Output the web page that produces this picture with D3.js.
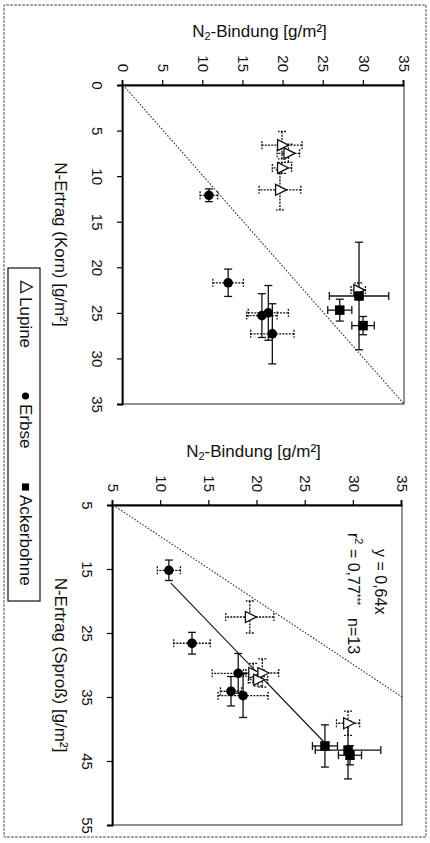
<!DOCTYPE html>
<html><head><meta charset="utf-8">
<script src="https://cdn.jsdelivr.net/npm/d3@7"></script>
<style>
body{margin:0;background:#fff}
svg{display:block}
text{font-family:"Liberation Sans",Arial,sans-serif;fill:#111}
</style>
</head><body>
<svg id="c" width="430" height="843"></svg>
<script>
// ---------- DATA ----------
// rows: [N-Ertrag, N2-Bindung, error N-Ertrag, error N2-Bindung]
const kornTicks = [0, 5, 10, 15, 20, 25, 30, 35];
const bindTicksTop = [0, 5, 10, 15, 20, 25, 30, 35];
const sprossTicks = [5, 15, 25, 35, 45, 55];
const bindTicksBottom = [5, 10, 15, 20, 25, 30, 35];

const kornLupine = [[6.6, 19.8, 1.5, 2.5], [7.5, 20.6, 1.0, 1.4], [9.1, 19.8, 0.6, 1.2], [11.5, 19.55, 2.2, 2.6], [22.5, 29.3, 0.8, 0.9]];
const kornErbse = [[12.1, 10.7, 0.7, 1.1], [21.7, 13.1, 1.5, 1.9], [25.3, 17.3, 2.4, 1.9], [25.0, 18.1, 3.0, 2.5], [27.3, 18.6, 3.3, 2.7]];
const kornAckerbohne = [[23.15, 29.4, 5.9, 3.7], [24.7, 27.0, 1.2, 1.5], [26.4, 29.9, 1.0, 1.4]];

const sprossLupine = [[22.5, 19.2, 2.5, 2.5], [31.25, 19.55, 1.5, 1.0], [31.25, 20.5, 2.2, 1.7], [32.3, 20.05, 1.0, 1.0], [39.1, 29.4, 1.9, 1.2]];
const sprossErbse = [[15.2, 10.8, 1.6, 1.2], [26.6, 13.2, 1.7, 1.9], [31.3, 18.0, 3.1, 2.7], [34.1, 17.25, 2.3, 1.1], [34.8, 18.5, 3.4, 2.6]];
const sprossAckerbohne = [[42.65, 27.0, 3.3, 1.3], [43.3, 29.4, 4.5, 3.4], [44.1, 29.6, 1.5, 1.2]];

const regSlope = 0.64;
const regXRange = [17.2, 42.5];
const legendNames = ["Lupine", "Erbse", "Ackerbohne"];

// ---------- DRAW ----------
const svg = d3.select("#c");
// The figure is drawn upright and then turned 90° clockwise, as in the reference.
const g = svg.append("g").attr("transform", "translate(430,0) rotate(90)");

// outer frame
g.append("rect").attr("x", 5).attr("y", 4).attr("width", 832).attr("height", 422)
  .attr("fill", "none").attr("stroke", "#555").attr("stroke-width", 1).attr("stroke-dasharray", "3,1");

function panel(opt) {
  const x = d3.scaleLinear().domain(opt.xDomain).range(opt.xRange);
  const y = d3.scaleLinear().domain(opt.yDomain).range(opt.yRange);
  const p = g.append("g");
  const [x0, x1] = opt.xRange, [y0, y1] = opt.yRange; // y0 bottom, y1 top

  p.append("rect").attr("x", x0).attr("y", y1).attr("width", x1 - x0).attr("height", y0 - y1)
    .attr("fill", "none").attr("stroke", "#222").attr("stroke-width", 1);

  const ax = p.append("g").attr("transform", `translate(0,${y0})`)
    .call(d3.axisBottom(x).tickValues(opt.xTicks).tickSize(6).tickPadding(14).tickFormat(d3.format("d")));
  const ay = p.append("g").attr("transform", `translate(${x0},0)`)
    .call(d3.axisLeft(y).tickValues(opt.yTicks).tickSize(5).tickPadding(8).tickFormat(d3.format("d")));
  [ax, ay].forEach(a => {
    a.select(".domain").attr("stroke", "#000").attr("stroke-width", 1.8);
    a.selectAll(".tick line").attr("stroke", "#000").attr("stroke-width", 1.2);
    a.selectAll(".tick text").attr("font-size", 15).attr("font-family", '"Liberation Sans",Arial,sans-serif').attr("fill", "#111");
  });

  // 1:1 line
  const dLo = Math.max(opt.xDomain[0], opt.yDomain[0]);
  const dHi = Math.min(opt.xDomain[1], opt.yDomain[1]);
  p.append("line").attr("x1", x(dLo)).attr("y1", y(dLo)).attr("x2", x(dHi)).attr("y2", y(dHi))
    .attr("stroke", "#333").attr("stroke-width", 1.1).attr("stroke-dasharray", "1.6,1.6");

  if (opt.reg) {
    p.append("line").attr("x1", x(regXRange[0])).attr("y1", y(regSlope * regXRange[0]))
      .attr("x2", x(regXRange[1])).attr("y2", y(regSlope * regXRange[1]))
      .attr("stroke", "#111").attr("stroke-width", 1.1);
  }

  const series = [
    {data: opt.lupine, shape: "tri", dashX: "2,1.2", dashY: "2,1.2"},
    {data: opt.erbse, shape: "circle", dashX: null, dashY: "2,1.2"},
    {data: opt.acker, shape: "square", dashX: null, dashY: null}
  ];
  const cap = 4;
  series.forEach(s => {
    const eb = p.append("g");
    s.data.forEach(d => {
      const cx = x(d[0]), cy = y(d[1]);
      const xl = x(d[0] - d[2]), xr = x(d[0] + d[2]);
      const yt = y(d[1] + d[3]), yb = y(d[1] - d[3]);
      const hx = eb.append("g").attr("stroke", "#111").attr("stroke-width", 1.3);
      if (s.dashX) hx.attr("stroke-dasharray", s.dashX);
      hx.append("line").attr("x1", xl).attr("x2", xr).attr("y1", cy).attr("y2", cy);
      hx.append("line").attr("x1", xl).attr("x2", xl).attr("y1", cy - cap).attr("y2", cy + cap).attr("stroke-dasharray", null);
      hx.append("line").attr("x1", xr).attr("x2", xr).attr("y1", cy - cap).attr("y2", cy + cap).attr("stroke-dasharray", null);
      const vy = eb.append("g").attr("stroke", "#111").attr("stroke-width", 1.3);
      if (s.dashY) vy.attr("stroke-dasharray", s.dashY);
      vy.append("line").attr("x1", cx).attr("x2", cx).attr("y1", yt).attr("y2", yb);
      vy.append("line").attr("x1", cx - cap).attr("x2", cx + cap).attr("y1", yt).attr("y2", yt).attr("stroke-dasharray", null);
      vy.append("line").attr("x1", cx - cap).attr("x2", cx + cap).attr("y1", yb).attr("y2", yb).attr("stroke-dasharray", null);
    });
  });
  series.forEach(s => {
    s.data.forEach(d => drawMarker(p, s.shape, x(d[0]), y(d[1]), 1));
  });

  // titles
  p.append("text").attr("x", (x0 + x1) / 2).attr("y", 375).attr("text-anchor", "middle")
    .attr("font-size", 17).text(opt.xTitle);
  const yt = p.append("text").attr("transform", `translate(${opt.yTitleU},${(y0 + y1) / 2 + 4}) rotate(-90)`)
    .attr("text-anchor", "middle").attr("font-size", 17);
  yt.append("tspan").text("N");
  yt.append("tspan").attr("font-size", 11).attr("dy", 3).text("2");
  yt.append("tspan").attr("dy", -3).text("-Bindung [g/m²]");
  return {x, y};
}

function drawMarker(p, shape, cx, cy, k) {
  if (shape === "tri") {
    const h = 11 * k, w = 11 * k;
    p.append("path").attr("d", `M${cx},${cy - h * 0.6}L${cx + w / 2},${cy + h * 0.4}L${cx - w / 2},${cy + h * 0.4}Z`)
      .attr("fill", "#fff").attr("stroke", "#111").attr("stroke-width", 1.3);
  } else if (shape === "circle") {
    p.append("circle").attr("cx", cx).attr("cy", cy).attr("r", 4.8 * k).attr("fill", "#000");
  } else {
    const s = 9.5 * k;
    p.append("rect").attr("x", cx - s / 2).attr("y", cy - s / 2).attr("width", s).attr("height", s).attr("fill", "#000");
  }
}

panel({
  xDomain: [0, 35], xRange: [85, 404], yDomain: [0, 35], yRange: [307, 26],
  xTicks: kornTicks, yTicks: bindTicksTop,
  lupine: kornLupine, erbse: kornErbse, acker: kornAckerbohne,
  xTitle: "N-Ertrag (Korn) [g/m²]", yTitleU: 37, reg: false
});
panel({
  xDomain: [5, 55], xRange: [505, 825], yDomain: [5, 35], yRange: [317, 28],
  xTicks: sprossTicks, yTicks: bindTicksBottom,
  lupine: sprossLupine, erbse: sprossErbse, acker: sprossAckerbohne,
  xTitle: "N-Ertrag (Sproß) [g/m²]", yTitleU: 457, reg: true
});

// regression annotation
g.append("text").attr("x", 549).attr("y", 55).attr("font-size", 16).text("y = 0,64x");
const r2 = g.append("text").attr("x", 533).attr("y", 82).attr("font-size", 16);
r2.append("tspan").text("r");
r2.append("tspan").attr("font-size", 11).attr("dy", -7).text("2");
r2.append("tspan").attr("dy", 7).text(" = 0,77");
r2.append("tspan").attr("font-size", 10).attr("dy", -5).text("***");
g.append("text").attr("x", 618).attr("y", 82).attr("font-size", 16).text("n=13");

// legend
g.append("rect").attr("x", 268).attr("y", 390).attr("width", 333).attr("height", 32)
  .attr("fill", "#fff").attr("stroke", "#111").attr("stroke-width", 1.2);
const legPos = [287, 396, 487];
const legShapes = ["tri", "circle", "square"];
const legScale = [1.05, 0.75, 0.75];
legendNames.forEach((n, i) => {
  drawMarker(g, legShapes[i], legPos[i], 404.5, legScale[i]);
  g.append("text").attr("x", legPos[i] + (i === 0 ? 10 : 8)).attr("y", 410).attr("font-size", 17).text(n);
});
</script>
</body></html>
